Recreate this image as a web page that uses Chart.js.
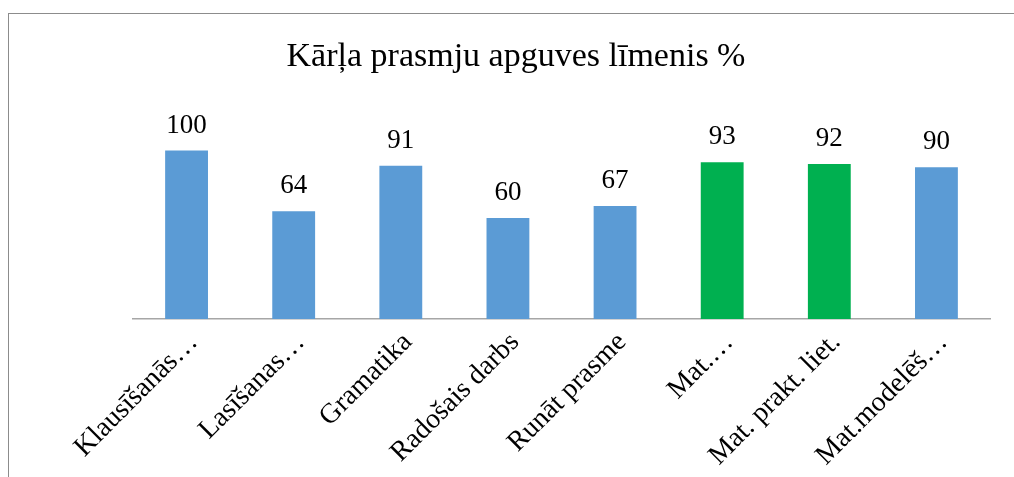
<!DOCTYPE html>
<html>
<head>
<meta charset="utf-8">
<script src="https://cdn.jsdelivr.net/npm/chart.js@4.4.0/dist/chart.umd.min.js"></script>
<style>
  body { margin: 0; background: #fff; }
  #wrap { position: relative; width: 1014px; height: 477px; overflow: hidden; }
  #frame { position: absolute; left: 8px; top: 13px; width: 1100px; height: 600px; border-left: 1px solid #8c8c8c; border-top: 1px solid #8c8c8c; }
  canvas { position: absolute; left: 0; top: 0; }
</style>
</head>
<body>
<div id="wrap">
  <div id="frame"></div>
  <canvas id="grafico_prasmes" width="1014" height="477"></canvas>
</div>
<script>
const kategorijas = ['Klausīšanās…', 'Lasīšanas…', 'Gramatika', 'Radošais darbs', 'Runāt prasme', 'Mat.…', 'Mat. prakt. liet.', 'Mat.modelēš…'];
const vertibas = [100, 64, 91, 60, 67, 93, 92, 90];
const krasas = ['#5b9bd5', '#5b9bd5', '#5b9bd5', '#5b9bd5', '#5b9bd5', '#00b050', '#00b050', '#5b9bd5'];

const serifFonts = '"Liberation Serif", "Times New Roman", serif';

// vērtības virs stabiņiem
const vertibuUzraksti = {
  id: 'vertibuUzraksti',
  afterDatasetsDraw(chart) {
    const ctx = chart.ctx;
    const meta = chart.getDatasetMeta(0);
    ctx.save();
    ctx.font = '27px ' + serifFonts;
    ctx.fillStyle = '#000';
    ctx.textAlign = 'center';
    ctx.textBaseline = 'alphabetic';
    meta.data.forEach(function (bar, i) {
      ctx.fillText(chart.data.datasets[0].data[i], bar.x, bar.y - 18);
    });
    ctx.restore();
  }
};

const graficoPrasmes = document.getElementById('grafico_prasmes');

new Chart(graficoPrasmes, {
  type: 'bar',
  data: {
    labels: kategorijas,
    datasets: [{
      data: vertibas,
      backgroundColor: krasas,
      barPercentage: 0.4,
      categoryPercentage: 1
    }]
  },
  options: {
    responsive: false,
    animation: false,
    layout: {
      padding: { left: 18, right: 0, top: 0, bottom: 0 }
    },
    scales: {
      y: {
        min: 0,
        max: 120,
        grid: { display: false },
        border: { display: false },
        ticks: { display: false },
        afterFit: function (scale) { scale.width = 115; }
      },
      y2: {
        position: 'right',
        min: 0,
        max: 120,
        grid: { display: false },
        border: { display: false },
        ticks: { display: false },
        afterFit: function (scale) { scale.width = 24; }
      },
      x: {
        grid: { display: false },
        border: { display: true, color: '#a6a6a6', width: 1.5 },
        ticks: {
          color: '#000',
          maxRotation: 45,
          minRotation: 45,
          autoSkip: false,
          labelOffset: 7,
          padding: -1,
          font: { family: serifFonts, size: 28 }
        },
        afterFit: function (scale) { scale.height = 158; }
      }
    },
    plugins: {
      legend: { display: false },
      tooltip: { enabled: false },
      title: {
        display: true,
        text: 'Kārļa prasmju apguves līmenis %',
        color: '#000',
        font: { family: serifFonts, size: 34, weight: 'normal' },
        padding: { top: 37, bottom: 39 }
      }
    }
  },
  plugins: [vertibuUzraksti]
});
</script>
</body>
</html>
